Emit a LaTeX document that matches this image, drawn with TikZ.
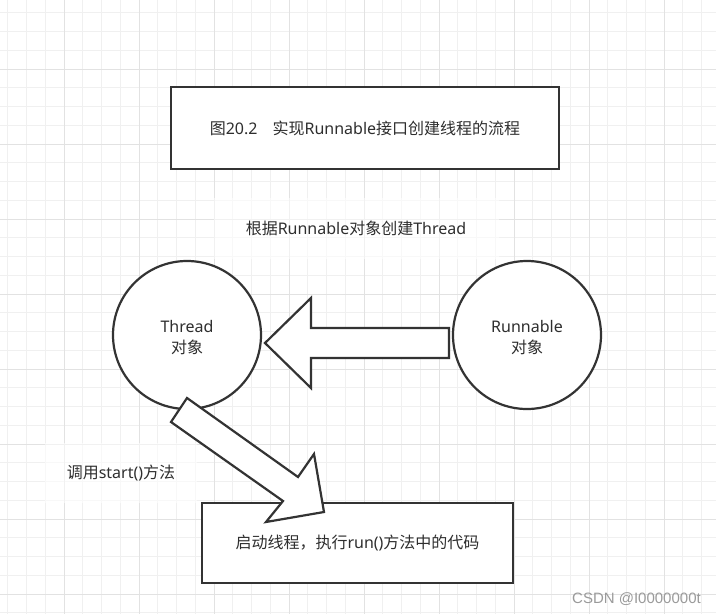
\documentclass[tikz,border=0pt]{standalone}
\usepackage{fontspec}
\setmainfont{Noto Sans}
\newfontfamily\cjk{Noto Sans CJK SC}
\newfontfamily\wmfont{Liberation Sans}
\definecolor{linec}{HTML}{333333}
\definecolor{txtc}{HTML}{2E2E2E}
\definecolor{gridminor}{HTML}{F0F0F0}
\definecolor{gridmajor}{HTML}{E2E2E2}
\definecolor{wmc}{HTML}{9A9A9A}
\tikzset{
  boxst/.style={draw=linec, line width=2.5pt, fill=white, text=txtc, font=\fontsize{16}{21}\selectfont, inner sep=0pt},
  circst/.style={draw=linec, line width=2.2pt, fill=white, circle, inner sep=0pt},
  circtxt/.style={text=txtc, align=center, font=\fontsize{16}{21}\selectfont, inner sep=0pt},
  blockarrow/.style={draw=linec, line width=2.2pt, fill=white, line join=miter},
  labelst/.style={fill=white, fill opacity=0.55, text opacity=1, text=txtc, font=\fontsize{16}{21}\selectfont, inner sep=0pt},
  gminor/.style={draw=gridminor, line width=1pt},
  gmajor/.style={draw=gridmajor, line width=1pt}
}
\begin{document}
\begin{tikzpicture}[x=1pt,y=-1pt]
\useasboundingbox (0,0) rectangle (716,614);
\fill[white] (0,0) rectangle (716,614);
% grid
\foreach \i in {0,...,37} {
  \pgfmathsetmacro{\gx}{7.75+18.75*\i}
  \draw[gminor] (\gx,0) -- (\gx,614);
}
\foreach \i in {0,...,32} {
  \pgfmathsetmacro{\gy}{12.75+18.75*\i}
  \draw[gminor] (0,\gy) -- (716,\gy);
}
\foreach \i in {0,...,9} {
  \pgfmathsetmacro{\gx}{64+75*\i}
  \draw[gmajor] (\gx,0) -- (\gx,614);
}
\foreach \i in {0,...,7} {
  \pgfmathsetmacro{\gy}{69+75*\i}
  \draw[gmajor] (0,\gy) -- (716,\gy);
}
% label patches and labels
\node[labelst, minimum width=285, minimum height=61] (lab1) at (356,228) {{\cjk 根据}Runnable{\cjk 对象创建}Thread};
\node[labelst, minimum width=152, minimum height=60] (lab2) at (121,473) {{\cjk 调用}start(){\cjk 方法}};
% boxes
\node[boxst, minimum width=388, minimum height=82] (title) at (365,128) {{\cjk 图}20.2\hspace{15pt}{\cjk 实现}Runnable{\cjk 接口创建线程的流程}};
\node[boxst, minimum width=311, minimum height=80] (run) at (357.5,543) {{\cjk 启动线程，执行}run(){\cjk 方法中的代码}};
% circles
\node[circst, minimum size=148] (thread) at (187,335) {};
\node[circtxt] (threadtxt) at ([yshift=-3pt]thread.center) {Thread\\{\cjk 对象}};
\node[circst, minimum size=148] (runnable) at (527,335) {};
\node[circtxt] (runnabletxt) at ([yshift=-3pt]runnable.center) {Runnable\\{\cjk 对象}};
% block arrows
\draw[blockarrow] (265,343) -- (311,298) -- (311,328) -- (449,328) -- (449,358) -- (311,358) -- (311,388) -- cycle;
\draw[blockarrow] (187,398) -- (298,477) -- (314,454) -- (324,512) -- (266,522) -- (283,501) -- (171,422) -- cycle;
% watermark
\node[anchor=east, text=wmc, font=\wmfont\fontsize{15}{18}\selectfont, inner sep=0pt] (wm) at (701,599) {CSDN @I0000000t};
\end{tikzpicture}
\end{document}
